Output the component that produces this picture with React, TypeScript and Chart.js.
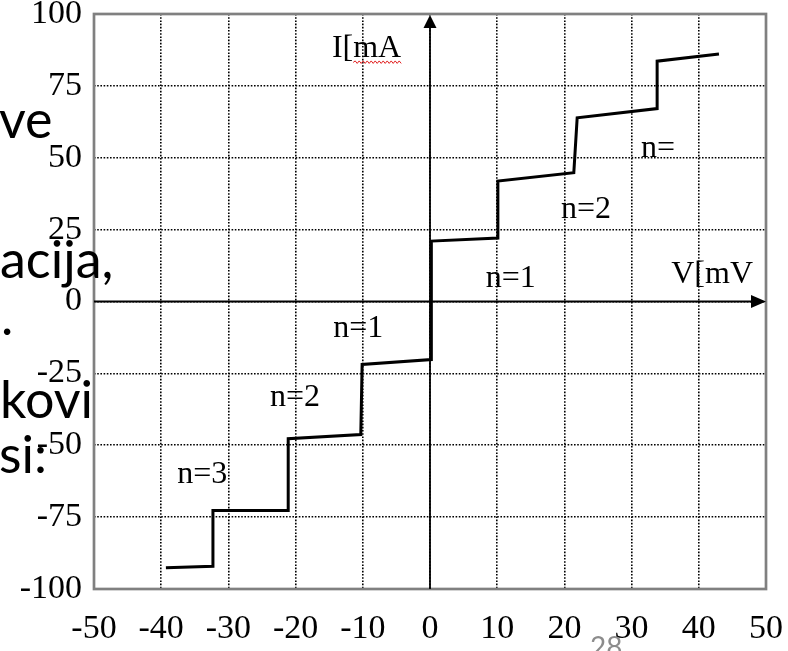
import React, { useEffect, useRef } from "react";
import { Chart, registerables } from "chart.js";

Chart.register(...registerables);

// I–V step curve (V in mV, I in mA)
const voltage = [-39.3, -32.3, -32.3, -21.1, -21.1, -10.3, -10.1, 0.2, 0.2, 10.1, 10.1, 21.4, 21.9, 33.8, 33.8, 43.0];
const current = [-92.6, -92.1, -72.7, -72.7, -47.7, -46.3, -21.9, -20.2, 21.0, 22.1, 41.9, 44.8, 63.9, 67.1, 83.6, 86.1];

// tick labels
const xTicks = [-50, -40, -30, -20, -10, 0, 10, 20, 30, 40, 50];
const yTicks = [-100, -75, -50, -25, 0, 25, 50, 75, 100];

// annotations inside the plot (left edge V, baseline I)
const noteTexts = ["I[mA", "V[mV", "n=1", "n=2", "n=", "n=1", "n=2", "n=3"];
const noteV = [-14.6, 35.9, 8.3, 19.5, 31.4, -14.4, -23.8, -37.6];
const noteI = [84.9, 6.6, 5.2, 29.2, 50.1, -12.5, -36.5, -63.0];

// slide text around the picture
const slideLines = ["ve", "acija,", ".", "kovi", "si:"];
const pageNumber = "28";

const SERIF = '"Liberation Serif", "Times New Roman", serif';

const decorPlugin = {
  id: "decor",
  beforeDatasetsDraw(chart: any) {
    const { ctx, chartArea: a, scales } = chart;
    const x = scales.x;
    const y = scales.y;
    const x0 = x.getPixelForValue(0);
    const y0 = y.getPixelForValue(0);
    ctx.save();
    ctx.strokeStyle = "#808080";
    ctx.lineWidth = 2.7;
    ctx.strokeRect(a.left, a.top, a.right - a.left, a.bottom - a.top);
    ctx.strokeStyle = "#000";
    ctx.lineWidth = 1.8;
    ctx.beginPath();
    ctx.moveTo(a.left, y0);
    ctx.lineTo(a.right - 10, y0);
    ctx.stroke();
    ctx.beginPath();
    ctx.moveTo(x0, a.bottom);
    ctx.lineTo(x0, a.top + 10);
    ctx.stroke();
    ctx.fillStyle = "#000";
    ctx.beginPath();
    ctx.moveTo(a.right, y0);
    ctx.lineTo(a.right - 15, y0 - 6.5);
    ctx.lineTo(a.right - 15, y0 + 6.5);
    ctx.closePath();
    ctx.fill();
    ctx.beginPath();
    ctx.moveTo(x0, a.top + 1);
    ctx.lineTo(x0 - 6.5, a.top + 14);
    ctx.lineTo(x0 + 6.5, a.top + 14);
    ctx.closePath();
    ctx.fill();
    ctx.restore();
  },
  afterDatasetsDraw(chart: any) {
    const { ctx, scales } = chart;
    const x = scales.x;
    const y = scales.y;
    ctx.save();
    ctx.font = `32px ${SERIF}`;
    ctx.fillStyle = "#000";
    ctx.textAlign = "left";
    ctx.textBaseline = "alphabetic";
    noteTexts.forEach((t, i) => {
      const px = x.getPixelForValue(noteV[i]);
      const py = y.getPixelForValue(noteI[i]);
      ctx.fillText(t, px, py);
      if (i === 0) {
        // red spell-check squiggle under "mA"
        const x1 = px + ctx.measureText("I[").width;
        const x2 = px + ctx.measureText(t).width;
        const sy = py + 5;
        ctx.strokeStyle = "#e02020";
        ctx.lineWidth = 1;
        ctx.beginPath();
        let up = true;
        ctx.moveTo(x1, sy);
        for (let xx = x1 + 2; xx <= x2; xx += 2) {
          ctx.lineTo(xx, up ? sy - 1.5 : sy + 1);
          up = !up;
        }
        ctx.stroke();
      }
    });
    ctx.restore();
  },
};

export default function App() {
  const canvasRef = useRef<HTMLCanvasElement | null>(null);

  useEffect(() => {
    if (!canvasRef.current) return;
    const points = voltage.map((v, i) => ({ x: v, y: current[i] }));
    const font = { family: SERIF, size: 34 };
    const chart = new Chart(canvasRef.current, {
      type: "scatter",
      data: {
        datasets: [
          {
            data: points,
            showLine: true,
            borderColor: "#000",
            backgroundColor: "#000",
            borderWidth: 3,
            pointRadius: 0,
            tension: 0,
            fill: false,
          },
        ],
      },
      options: {
        responsive: false,
        animation: false,
        devicePixelRatio: 1,
        layout: { padding: { left: 0, right: 22, top: 14, bottom: 0 } },
        plugins: { legend: { display: false }, tooltip: { enabled: false } },
        scales: {
          x: {
            type: "linear",
            min: -50,
            max: 50,
            afterBuildTicks: (s: any) => {
              s.ticks = xTicks.map((v) => ({ value: v }));
            },
            afterFit: (s: any) => {
              s.height = 62;
              s.paddingLeft = 0;
              s.paddingRight = 0;
            },
            ticks: { font, color: "#000", padding: 20, maxRotation: 0, autoSkip: false },
            grid: { color: "#000", lineWidth: 1.6, drawTicks: false },
            border: { display: false, dash: [1.6, 1.6] },
          },
          y: {
            type: "linear",
            min: -100,
            max: 100,
            afterBuildTicks: (s: any) => {
              s.ticks = yTicks.map((v) => ({ value: v }));
            },
            afterFit: (s: any) => {
              s.width = 94;
              s.paddingTop = 0;
              s.paddingBottom = 0;
            },
            ticks: { font, color: "#000", padding: 12, autoSkip: false },
            grid: { color: "#000", lineWidth: 1.6, drawTicks: false },
            border: { display: false, dash: [1.6, 1.6] },
          },
        },
      } as any,
      plugins: [decorPlugin],
    });
    return () => chart.destroy();
  }, []);

  const slideTop = [92, 232, 289, 372, 427];
  const slideLeft = [-1, 0, 1, 0, -1];

  return (
    <div style={{ position: "absolute", left: 0, top: 0, width: 788, height: 651, overflow: "hidden", background: "#fff" }}>
      <canvas ref={canvasRef} width={788} height={651} style={{ display: "block" }} />
      {slideLines.map((t, i) => (
        <div
          key={i}
          style={{
            position: "absolute",
            left: slideLeft[i],
            top: slideTop[i],
            font: '52px Lato, "Noto Sans", sans-serif',
            lineHeight: 1,
            color: "#000",
            whiteSpace: "pre",
          }}
        >
          {t}
        </div>
      ))}
      <div
        style={{
          position: "absolute",
          left: 590,
          top: 632,
          font: '28px Lato, "Noto Sans", sans-serif',
          lineHeight: 1,
          color: "#8c8c8c",
        }}
      >
        {pageNumber}
      </div>
    </div>
  );
}
